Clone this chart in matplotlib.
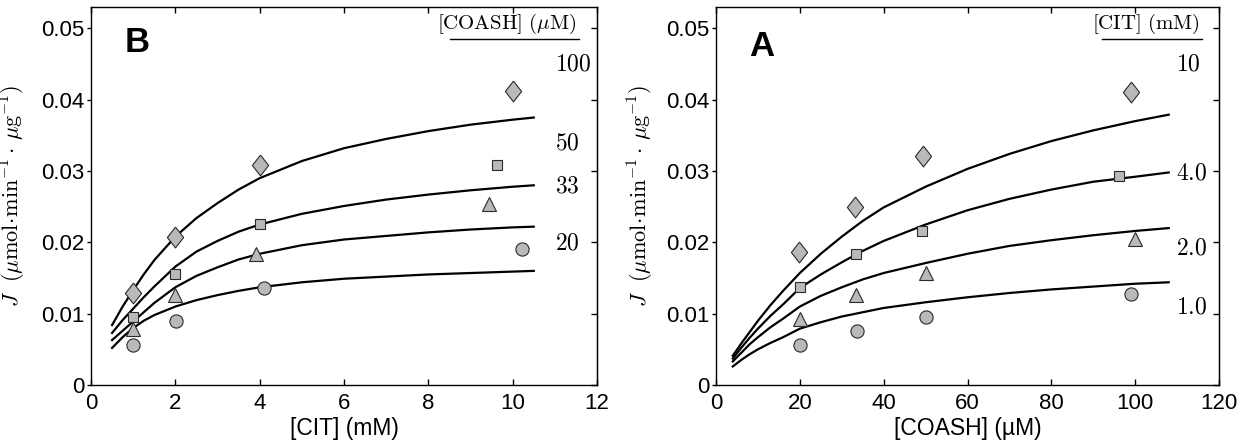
import numpy as np
import matplotlib
matplotlib.use("Agg")
import matplotlib.pyplot as plt

plt.rcParams['font.family'] = ['Liberation Sans', 'DejaVu Sans']
plt.rcParams['mathtext.fontset'] = 'cm'

# ---- panel B: J vs [CIT] at several [COASH]
cit_fit = [0.5, 0.75, 1, 1.25, 1.5, 2, 2.5, 3, 3.5, 4, 5, 6, 7, 8, 9, 10, 10.5]
b_fit = {
    '100': [0.0084, 0.0110, 0.0133, 0.0155, 0.0175, 0.0208, 0.0234, 0.0255, 0.0274, 0.0290,
            0.0314, 0.0332, 0.0345, 0.0356, 0.0365, 0.0372, 0.0375],
    '50':  [0.0073, 0.0091, 0.0107, 0.0123, 0.0138, 0.0166, 0.0187, 0.0202, 0.0215, 0.0225,
            0.0240, 0.0251, 0.0260, 0.0267, 0.0273, 0.0278, 0.0280],
    '33':  [0.0063, 0.0076, 0.0089, 0.0102, 0.0115, 0.0137, 0.0153, 0.0165, 0.0176, 0.0184,
            0.0196, 0.0204, 0.0209, 0.0214, 0.0218, 0.0221, 0.0222],
    '20':  [0.0052, 0.0067, 0.0080, 0.0090, 0.0098, 0.0110, 0.0119, 0.0126, 0.0132, 0.0137,
            0.0144, 0.0149, 0.0152, 0.0155, 0.0157, 0.0159, 0.0160],
}
b_diam_x = [1, 2, 4, 10]
b_diam_y = [0.0129, 0.0207, 0.0308, 0.0412]
b_sq_x = [1, 2, 4, 9.62]
b_sq_y = [0.0095, 0.0156, 0.0226, 0.0309]
b_tri_x = [1, 2, 3.92, 9.45]
b_tri_y = [0.0078, 0.0126, 0.0184, 0.0254]
b_circ_x = [1, 2.02, 4.1, 10.23]
b_circ_y = [0.0056, 0.0090, 0.0136, 0.0191]
b_labels = ['100', '50', '33', '20']
b_label_y = [0.0450, 0.0338, 0.0279, 0.0198]

# ---- panel A: J vs [COASH] at several [CIT]
coash_fit = [4, 6, 8, 10, 13, 16, 20, 25, 30, 35, 40, 50, 60, 70, 80, 90, 100, 108]
a_fit = {
    '10':  [0.0041, 0.0058, 0.0074, 0.0090, 0.0112, 0.0132, 0.0157, 0.0184, 0.0208, 0.0230,
            0.0249, 0.0278, 0.0303, 0.0324, 0.0342, 0.0357, 0.0370, 0.0379],
    '4.0': [0.0037, 0.0052, 0.0066, 0.0079, 0.0097, 0.0113, 0.0136, 0.0155, 0.0172, 0.0188,
            0.0202, 0.0225, 0.0245, 0.0261, 0.0274, 0.0285, 0.0292, 0.0298],
    '2.0': [0.0033, 0.0045, 0.0057, 0.0067, 0.0081, 0.0093, 0.0110, 0.0125, 0.0137, 0.0148,
            0.0157, 0.0171, 0.0184, 0.0195, 0.0203, 0.0210, 0.0216, 0.0220],
    '1.0': [0.0026, 0.0035, 0.0043, 0.0050, 0.0059, 0.0067, 0.0079, 0.0088, 0.0096, 0.0102,
            0.0108, 0.0116, 0.0123, 0.0129, 0.0134, 0.0138, 0.0142, 0.0144],
}
a_diam_x = [19.9, 33.2, 49.5, 99.1]
a_diam_y = [0.0186, 0.0250, 0.0321, 0.0411]
a_sq_x = [20, 33.3, 49.2, 96.2]
a_sq_y = [0.0137, 0.0184, 0.0216, 0.0293]
a_tri_x = [20, 33.3, 50, 100]
a_tri_y = [0.0092, 0.0126, 0.0157, 0.0205]
a_circ_x = [20, 33.6, 50, 99]
a_circ_y = [0.0056, 0.0076, 0.0096, 0.0127]
a_labels = ['10', '4.0', '2.0', '1.0']
a_label_y = [0.0449, 0.0297, 0.0192, 0.0108]

fc = '#b9b9b9'
ec = '#2a2a2a'
diamond = [(0, 1), (0.78, 0), (0, -1), (-0.78, 0), (0, 1)]


def style_axes(ax, xmax, xstep):
    ax.set_xlim(0, xmax)
    ax.set_ylim(0, 0.053)
    ax.set_xticks(np.arange(0, xmax + 0.1, xstep))
    ax.set_yticks([0, 0.01, 0.02, 0.03, 0.04, 0.05])
    ax.set_yticklabels(['0', '0.01', '0.02', '0.03', '0.04', '0.05'])
    ax.tick_params(axis='x', direction='in', top=True, length=4, width=1, pad=6, labelsize=16)
    ax.tick_params(axis='y', direction='out', length=3, width=1, pad=1.5, labelsize=16)
    for sp in ax.spines.values():
        sp.set_linewidth(1.0)
    ax.secondary_yaxis('right').tick_params(direction='in', length=4, width=1, labelright=False)
    ax.set_ylabel(r'$J\ \ (\mu\mathrm{mol}\!\cdot\!\mathrm{min}^{-1}\cdot\,\mu\mathrm{g}^{-1})$', fontsize=16)


def draw_markers(ax, dx, dy, sx, sy, tx, ty, cx, cy):
    kw = dict(ls='none', mfc=fc, mec=ec, mew=0.8, zorder=3, clip_on=False)
    ax.plot(dx, dy, marker=diamond, ms=15, **kw)
    ax.plot(sx, sy, marker='s', ms=7.5, **kw)
    ax.plot(tx, ty, marker='^', ms=10.5, **kw)
    ax.plot(cx, cy, marker='o', ms=9.5, **kw)


fig = plt.figure(figsize=(12.44, 4.44), dpi=100)
axB = fig.add_axes([91 / 1244, 1 - 385 / 444, 506 / 1244, 378 / 444])
axA = fig.add_axes([716 / 1244, 1 - 385 / 444, 503 / 1244, 378 / 444])

# panel B
for k in b_fit:
    axB.plot(cit_fit, b_fit[k], color='black', lw=1.6, zorder=2)
draw_markers(axB, b_diam_x, b_diam_y, b_sq_x, b_sq_y, b_tri_x, b_tri_y, b_circ_x, b_circ_y)
style_axes(axB, 12, 2)
axB.set_xlabel('[CIT] (mM)', fontsize=16.5)
axB.xaxis.set_label_coords(0.5, -0.084)
axB.yaxis.set_label_coords(-0.125, 0.5)
axB.text(1.1, 0.0480, 'B', fontsize=25, fontweight='bold', ha='center', va='center')
for lab, yy in zip(b_labels, b_label_y):
    axB.text(11.0, yy, r'$\mathrm{%s}$' % lab, fontsize=17, ha='left', va='center')
axB.text(11.52, 0.0506, r'$\mathrm{[COASH]}\ (\mu\mathrm{M})$', fontsize=15, ha='right', va='center')
axB.plot([8.52, 11.57], [0.04855, 0.04855], color='black', lw=1.0, clip_on=False)

# panel A
for k in a_fit:
    axA.plot(coash_fit, a_fit[k], color='black', lw=1.6, zorder=2)
draw_markers(axA, a_diam_x, a_diam_y, a_sq_x, a_sq_y, a_tri_x, a_tri_y, a_circ_x, a_circ_y)
style_axes(axA, 120, 20)
axA.set_xlabel('[COASH] (µM)', fontsize=16.5)
axA.xaxis.set_label_coords(0.5, -0.084)
axA.yaxis.set_label_coords(-0.12, 0.5)
axA.text(10.9, 0.0475, 'A', fontsize=25, fontweight='bold', ha='center', va='center')
for lab, yy in zip(a_labels, a_label_y):
    axA.text(109.8, yy, r'$\mathrm{%s}$' % lab, fontsize=17, ha='left', va='center')
axA.text(115.5, 0.0506, r'$\mathrm{[CIT]\ (mM)}$', fontsize=15, ha='right', va='center')
axA.plot([92, 116], [0.04855, 0.04855], color='black', lw=1.0, clip_on=False)

fig.savefig('out.png', dpi=100)
